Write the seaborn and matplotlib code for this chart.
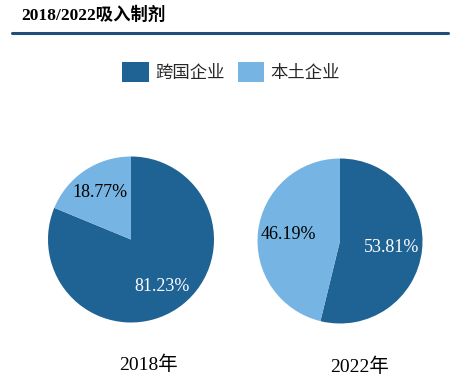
import matplotlib
matplotlib.use("Agg")
import matplotlib.pyplot as plt
from matplotlib.patches import Patch
import numpy as np
import seaborn as sns

# data
title = "2018/2022吸入制剂"
categories = ["跨国企业", "本土企业"]
years = ["2018年", "2022年"]
share_2018 = [81.23, 18.77]
share_2022 = [53.81, 46.19]

colors = ["#1f6294", "#76b5e3"]
label_colors = ["white", "black"]

sns.set_theme(style="white")
plt.rcParams["font.family"] = ["Liberation Serif", "Noto Sans CJK SC", "DejaVu Sans"]

fig = plt.figure(figsize=(4.53, 3.78), dpi=100)
fig.patch.set_facecolor("white")

# title and rule under it
fig.text(21 / 453, 1 - 15 / 378, title, fontsize=12.5, fontweight="bold",
         ha="left", va="center", color="black")
fig.add_artist(plt.Line2D([12 / 453, 448 / 453], [1 - 32.5 / 378] * 2,
                          color="#1f4e79", linewidth=2.2))

# pies: (left, bottom, width, height) in figure fraction
boxes = [
    ((131 - 83) / 453, (378 - 322.5) / 378, 166 / 453, 166 / 378),
    ((340 - 82.5) / 453, (378 - 323.5) / 378, 165 / 453, 165 / 378),
]
pct_dist = [0.68, 0.63]
year_pos = [(148, 365), (360, 367)]

for k, values in enumerate([share_2018, share_2022]):
    ax = fig.add_axes(boxes[k])
    wedges, texts, autotexts = ax.pie(
        values, colors=colors, startangle=90, counterclock=False,
        autopct=lambda p: "{:.2f}%".format(p), pctdistance=pct_dist[k],
        wedgeprops=dict(linewidth=0), radius=1.0,
    )
    for t, c in zip(autotexts, label_colors):
        t.set_color(c)
        t.set_fontsize(13)
    ax.set_xlim(-1, 1)
    ax.set_ylim(-1, 1)
    ax.set_aspect("equal")
    ax.axis("off")
    fig.text(year_pos[k][0] / 453, 1 - year_pos[k][1] / 378, years[k],
             fontsize=14, ha="center", va="center", color="black")

handles = [Patch(facecolor=c, edgecolor="none") for c in colors]
fig.legend(handles, categories, loc="center", bbox_to_anchor=(231 / 453, 1 - 72 / 378),
           ncol=2, frameon=False, fontsize=12.5, handlelength=1.55, handleheight=1.35,
           handletextpad=0.35, columnspacing=0.75)

fig.savefig("out.png", dpi=100, facecolor="white")
